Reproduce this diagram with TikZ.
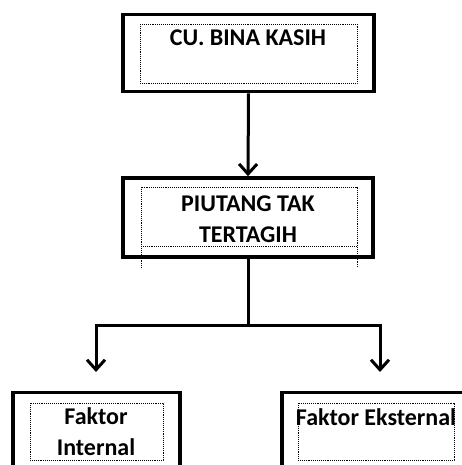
\documentclass[tikz,border=0pt]{standalone}
\usepackage{fontspec}
\setmainfont{Carlito}
\usetikzlibrary{arrows.meta}

\begin{document}
\begin{tikzpicture}[x=1pt,y=-1pt,
	frame/.style={draw,line width=3.6pt,inner sep=0pt,minimum height=77pt},
	inbox/.style={draw,densely dotted,line width=.9pt},
	lbl/.style={font=\fontsize{24}{31}\selectfont\bfseries,align=center,inner sep=0pt},
	garis/.style={line width=3pt},
	panah/.style={line width=3pt,-{Straight Barb[length=10pt,width=18pt]}}]
\clip (0,0) rectangle (462,465);
% kotak luar
\node (cu) at (248.5,53) [frame,minimum width=251pt] {};
\node (piutang) at (248,217.5) [frame,minimum width=250pt,minimum height=79pt] {};
\node (internal) at (96.5,431) [frame,minimum width=167pt] {};
\node (eksternal) at (376.5,431) [frame,minimum width=189pt] {};
% kotak titik-titik
\draw[inbox] (140,24) rectangle (357,83);
\draw[inbox] (141,268) -- (141,187) -- (357,187) -- (357,268);
\draw[inbox] (141,246) -- (357,246);
\draw[inbox] (30,403) rectangle (163,460);
\draw[inbox] (298,403) rectangle (454,460);
% teks
\node (tcu) at (248,38) [lbl] {CU. BINA KASIH};
\node (tpiutang) at (248,219) [lbl] {PIUTANG TAK\\TERTAGIH};
\node (tinternal) at (96,432) [lbl] {Faktor\\Internal};
\node (teksternal) at (376,417) [lbl] {Faktor Eksternal};
% panah
\coordinate (cabang) at (248,325);
\coordinate (ujungkiri) at (96,372);
\coordinate (ujungkanan) at (380,372);
\draw[panah] (cu.south) -- (piutang.north);
\draw[garis] (piutang.south) -- (cabang);
\draw[panah] (cabang) -| (ujungkiri);
\draw[panah] (cabang) -| (ujungkanan);
\end{tikzpicture}
\end{document}
